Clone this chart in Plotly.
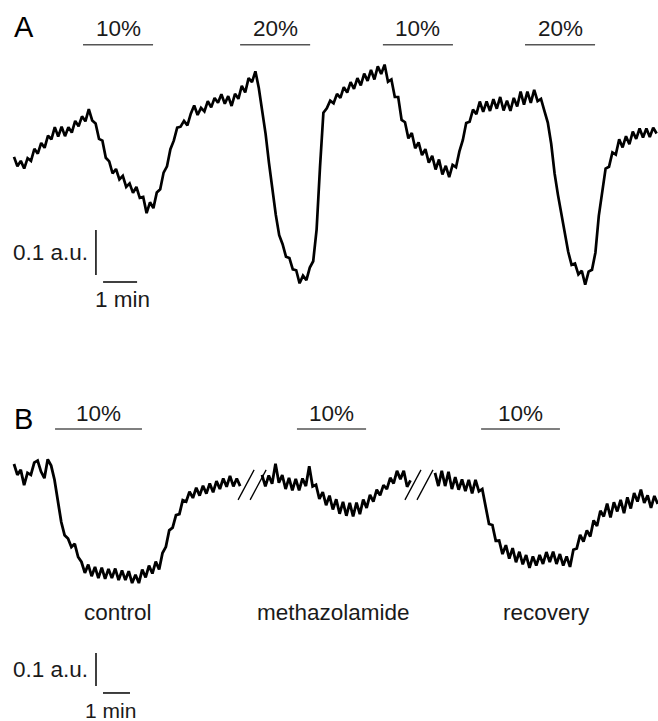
import numpy as np
import plotly.graph_objects as go

# ---------------- data ----------------
# Panel A: optical signal (a.u.), sampled every 0.1 min
A_dt = 0.1
A_signal = [
    0.007, -0.014, -0.002, -0.019, 0.004, -0.002, 0.025, 0.014, 0.038, 0.027,
    0.054, 0.046, 0.073, 0.052, 0.074, 0.053, 0.073, 0.061, 0.087, 0.075,
    0.097, 0.086, 0.113, 0.088, 0.081, 0.047, 0.043, 0.005, -0.003, -0.030,
    -0.020, -0.043, -0.035, -0.060, -0.052, -0.073, -0.060, -0.084, -0.082, -0.118,
    -0.094, -0.107, -0.072, -0.065, -0.028, -0.014, 0.024, 0.043, 0.072, 0.074,
    0.087, 0.077, 0.103, 0.121, 0.100, 0.116, 0.108, 0.131, 0.117, 0.138,
    0.127, 0.146, 0.125, 0.142, 0.120, 0.147, 0.136, 0.165, 0.150, 0.182,
    0.173, 0.197, 0.160, 0.111, 0.058, -0.007, -0.068, -0.122, -0.167, -0.187,
    -0.215, -0.218, -0.243, -0.245, -0.274, -0.257, -0.267, -0.239, -0.225, -0.155,
    -0.016, 0.105, 0.115, 0.132, 0.126, 0.147, 0.138, 0.162, 0.150, 0.173,
    0.158, 0.182, 0.166, 0.192, 0.176, 0.200, 0.179, 0.208, 0.191, 0.212,
    0.174, 0.179, 0.140, 0.140, 0.089, 0.084, 0.048, 0.060, 0.026, 0.039,
    0.011, 0.024, -0.006, 0.009, -0.021, 0.001, -0.032, -0.013, -0.038, -0.011,
    -0.016, 0.019, 0.044, 0.082, 0.085, 0.112, 0.102, 0.130, 0.107, 0.130,
    0.109, 0.135, 0.114, 0.140, 0.110, 0.132, 0.109, 0.138, 0.119, 0.152,
    0.123, 0.152, 0.127, 0.156, 0.131, 0.136, 0.109, 0.083, 0.036, -0.030,
    -0.078, -0.123, -0.168, -0.204, -0.233, -0.230, -0.254, -0.246, -0.277, -0.248,
    -0.244, -0.206, -0.124, -0.066, -0.019, -0.015, 0.017, 0.012, 0.046, 0.028,
    0.053, 0.035, 0.063, 0.047, 0.070, 0.050, 0.070, 0.051, 0.072, 0.059,
]
A_stim_start = [2.03, 6.65, 10.85, 15.03]   # min
A_stim_len = [2.06, 2.06, 2.06, 2.06]
A_stim_label = ["10%", "20%", "10%", "20%"]

# Panel B: three recording segments (control | methazolamide | recovery), 0.125 min sampling
B_dt = 0.125
B_seg_start = [0.0, 9.185, 15.593]  # min, display position after each break
B_seg1 = [
    -0.012, -0.045, -0.030, -0.076, -0.039, -0.045, -0.008, -0.002, -0.035, -0.055,
    0.002, -0.017, -0.060, -0.122, -0.188, -0.228, -0.238, -0.264, -0.254, -0.294,
    -0.309, -0.342, -0.317, -0.352, -0.324, -0.358, -0.326, -0.360, -0.330, -0.358,
    -0.329, -0.364, -0.335, -0.364, -0.337, -0.373, -0.348, -0.373, -0.332, -0.356,
    -0.320, -0.344, -0.308, -0.332, -0.282, -0.263, -0.213, -0.205, -0.167, -0.164,
    -0.122, -0.126, -0.096, -0.115, -0.084, -0.108, -0.078, -0.102, -0.071, -0.098,
    -0.064, -0.088, -0.056, -0.081, -0.048, -0.080, -0.056, -0.079,
]
B_seg2 = [
    -0.045, -0.080, -0.047, -0.072, -0.011, -0.069, -0.046, -0.088, -0.054, -0.092,
    -0.057, -0.092, -0.056, -0.079, -0.019, -0.080, -0.075, -0.118, -0.097, -0.137,
    -0.108, -0.150, -0.119, -0.163, -0.127, -0.169, -0.130, -0.171, -0.129, -0.164,
    -0.120, -0.145, -0.106, -0.126, -0.090, -0.107, -0.076, -0.088, -0.054, -0.071,
    -0.033, -0.058, -0.033, -0.081, -0.062,
]
B_seg3 = [
    -0.039, -0.079, -0.033, -0.079, -0.036, -0.088, -0.052, -0.090, -0.059, -0.094,
    -0.060, -0.101, -0.060, -0.095, -0.088, -0.145, -0.194, -0.197, -0.245, -0.244,
    -0.285, -0.258, -0.299, -0.267, -0.310, -0.278, -0.316, -0.288, -0.327, -0.292,
    -0.320, -0.288, -0.315, -0.279, -0.309, -0.278, -0.315, -0.285, -0.320, -0.292,
    -0.324, -0.272, -0.268, -0.227, -0.247, -0.213, -0.232, -0.183, -0.200, -0.154,
    -0.171, -0.132, -0.174, -0.128, -0.156, -0.121, -0.161, -0.113, -0.147, -0.100,
    -0.126, -0.090, -0.130, -0.107, -0.145, -0.109, -0.133,
]
B_segments = [B_seg1, B_seg2, B_seg3]
B_stim_start = [1.52, 10.48, 17.30]
B_stim_len = [3.22, 2.56, 2.92]
B_stim_label = ["10%", "10%", "10%"]
B_conditions = ["control", "methazolamide", "recovery"]
B_condition_t = [3.85, 11.85, 19.74]
B_break_t = [8.30, 14.48]   # where the "//" break marks start

SCALE_T = 1.0    # min
SCALE_V = 0.1    # a.u.

# ---------------- style / layout ----------------
FONT = "Liberation Sans, Arial, Helvetica, sans-serif"
TXT = "#1a1a1a"
BAR = "#555555"
FS = 22.5
W, H = 658, 721

fig = go.Figure()

# Panel A trace
tA = np.arange(len(A_signal)) * A_dt
fig.add_trace(go.Scatter(x=tA, y=A_signal, mode="lines",
                         line=dict(color="black", width=2.7),
                         xaxis="x", yaxis="y", hoverinfo="skip"))

# Panel B traces (three segments)
for s0, seg in zip(B_seg_start, B_segments):
    t = s0 + np.arange(len(seg)) * B_dt
    fig.add_trace(go.Scatter(x=t, y=seg, mode="lines",
                             line=dict(color="black", width=2.8),
                             xaxis="x2", yaxis="y2", hoverinfo="skip"))

shapes = []
ann = []

def txt(x, y, s, xref, yref, size=FS, xanchor="center", yanchor="middle", color=TXT):
    ann.append(dict(x=x, y=y, text=s, xref=xref, yref=yref, showarrow=False,
                    xanchor=xanchor, yanchor=yanchor,
                    font=dict(family=FONT, size=size, color=color)))

# stimulus bars A
for s, l, lab in zip(A_stim_start, A_stim_len, A_stim_label):
    shapes.append(dict(type="line", xref="x", yref="y", x0=s, x1=s + l, y0=0.256, y1=0.256,
                       line=dict(color=BAR, width=1.6)))
    txt(s + l / 2, 0.292, lab, "x", "y")

# stimulus bars B
for s, l, lab in zip(B_stim_start, B_stim_len, B_stim_label):
    shapes.append(dict(type="line", xref="x2", yref="y2", x0=s, x1=s + l, y0=0.094, y1=0.094,
                       line=dict(color=BAR, width=1.6)))
    txt(s + l / 2, 0.142, lab, "x2", "y2")

# condition labels
for c, t in zip(B_conditions, B_condition_t):
    txt(t, -0.462, c, "x2", "y2")

# break marks "//"
for b in B_break_t:
    for off in (0.0, 0.445):
        shapes.append(dict(type="line", xref="x2", yref="y2",
                           x0=b + off, x1=b + off + 0.593, y0=-0.121, y1=-0.030,
                           line=dict(color="black", width=1.3)))

# scale bars A
ax0, ay0 = 2.41, -0.2556
shapes.append(dict(type="line", xref="x", yref="y", x0=ax0, x1=ax0, y0=ay0, y1=ay0 + SCALE_V,
                   line=dict(color="black", width=1.5)))
shapes.append(dict(type="line", xref="x", yref="y", x0=2.62, x1=2.62 + SCALE_T, y0=-0.271, y1=-0.271,
                   line=dict(color="black", width=1.5)))
txt(2.235, -0.205, "0.1 a.u.", "x", "y", xanchor="right")
txt(3.2, -0.309, "1 min", "x", "y")

# scale bars B
bx0, by0 = 3.037, -0.685
shapes.append(dict(type="line", xref="x2", yref="y2", x0=bx0, x1=bx0, y0=by0, y1=by0 + SCALE_V,
                   line=dict(color="black", width=1.5)))
shapes.append(dict(type="line", xref="x2", yref="y2", x0=3.296, x1=3.296 + SCALE_T, y0=-0.706, y1=-0.706,
                   line=dict(color="black", width=1.5)))
txt(2.815, -0.636, "0.1 a.u.", "x2", "y2", xanchor="right")
txt(3.56, -0.7185, "1 min", "x2", "y2", size=21, yanchor="top")

# panel letters
txt(12 / W, 1 - 27 / H, "A", "paper", "paper", size=29, xanchor="left", color="black")
txt(12 / W, 1 - 419 / H, "B", "paper", "paper", size=29, xanchor="left", color="black")

hidden = dict(visible=False, showgrid=False, zeroline=False, fixedrange=True)
fig.update_layout(
    width=W, height=H,
    margin=dict(l=0, r=0, t=0, b=0),
    paper_bgcolor="white", plot_bgcolor="rgba(0,0,0,0)",
    showlegend=False,
    xaxis=dict(hidden, domain=[0, 1], range=[-14 / 34, 644 / 34], anchor="y"),
    yaxis=dict(hidden, domain=[0, 1], range=[-561 / 450, 160 / 450], anchor="x"),
    xaxis2=dict(hidden, domain=[0, 1], range=[-14 / 27, 644 / 27], anchor="y2", overlaying="x"),
    yaxis2=dict(hidden, domain=[0, 1], range=[-261 / 330, 460 / 330], anchor="x2", overlaying="y"),
    shapes=shapes, annotations=ann,
)

fig.write_html("out.html", config={"displayModeBar": False},
               post_script="document.body.style.margin='0';document.body.style.overflow='hidden';")
